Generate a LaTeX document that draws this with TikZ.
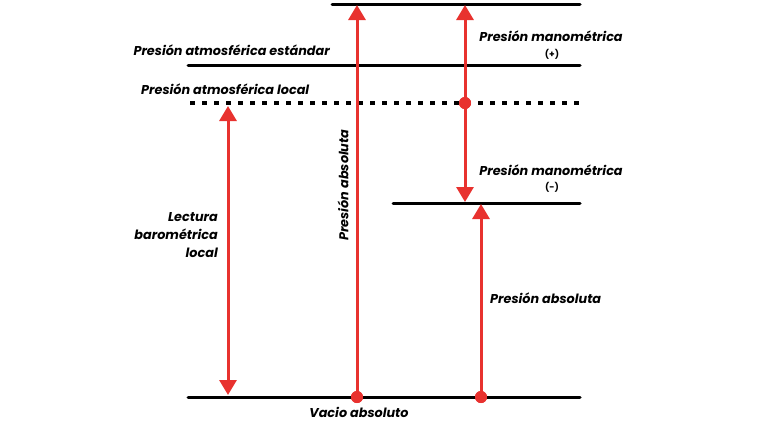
\documentclass[tikz,border=0pt]{standalone}
\usepackage{fontspec}
\setmainfont{Poppins}
\usetikzlibrary{arrows.meta}
\definecolor{rd}{HTML}{E8322F}
\tikzset{
  lvl/.style={line width=3pt, line cap=round, black},
  rarr/.style={line width=3pt, rd, -{Triangle[width=17pt,length=15pt]}},
  rarrb/.style={line width=3pt, rd, {Triangle[width=17pt,length=15pt]}-{Triangle[width=17pt,length=15pt]}},
  dotc/.style={circle, fill=rd, inner sep=0pt, minimum size=12pt},
  lab/.style={font=\fontsize{12.8}{15}\selectfont\bfseries\itshape, inner sep=0pt},
  sgn/.style={font=\fontsize{9}{10}\selectfont\bfseries\upshape},
}
\begin{document}
\begin{tikzpicture}[x=1pt,y=-1pt]
\useasboundingbox (0,0) rectangle (768,424);
% levels
\coordinate (t1) at (332,4); \coordinate (t2) at (580,4);
\coordinate (s1) at (188,65); \coordinate (s2) at (580,65);
\coordinate (l1) at (190,103); \coordinate (l2) at (580,103);
\coordinate (n1) at (393,203); \coordinate (n2) at (580,203);
\coordinate (b1) at (188,397); \coordinate (b2) at (580,397);
\draw[lvl] (t1) -- (t2);
\draw[lvl] (s1) -- (s2);
\draw[line width=4pt, black, dash pattern=on 5pt off 7pt] (l1) -- (l2);
\draw[lvl] (n1) -- (n2);
\draw[lvl] (b1) -- (b2);
% arrows
\coordinate (a1) at (228,106); \coordinate (a2) at (228,395);
\draw[rarrb] (a1) -- (a2);
\node[dotc] (d1) at (357,397) {};
\coordinate (d1t) at (357,5);
\draw[rarr] (d1.center) -- (d1t);
\node[dotc] (d2) at (465,103) {};
\coordinate (d2t) at (465,5);
\coordinate (d2b) at (465,202);
\draw[rarr] (d2.center) -- (d2t);
\draw[rarr] (d2.center) -- (d2b);
\node[dotc] (d3) at (481,397) {};
\coordinate (d3t) at (481,204);
\draw[rarr] (d3.center) -- (d3t);
\node[dotc] at (357,397) {};
\node[dotc] at (465,103) {};
\node[dotc] at (481,397) {};
% labels
\node[lab, anchor=east] (ls) at (330,50) {Presión atmosférica estándar};
\node[lab, anchor=west] (ll) at (141,89) {Presión atmosférica local};
\node[lab] (gp) at (551,36) {Presión manométrica};
\node[sgn] (gps) at (552,54) {(+)};
\node[lab] (gn) at (551,170) {Presión manométrica};
\node[sgn] (gns) at (552,187) {(-)};
\node[lab, align=right, anchor=east] (lb) at (218,235) {Lectura\\[3pt]barométrica\\[3pt]local};
\node[lab, rotate=90] (pa1) at (343,185) {Presión absoluta};
\node[lab, anchor=west] (pa2) at (490,298) {Presión absoluta};
\node[lab] (va) at (359,412) {Vacio absoluto};
\end{tikzpicture}
\end{document}
